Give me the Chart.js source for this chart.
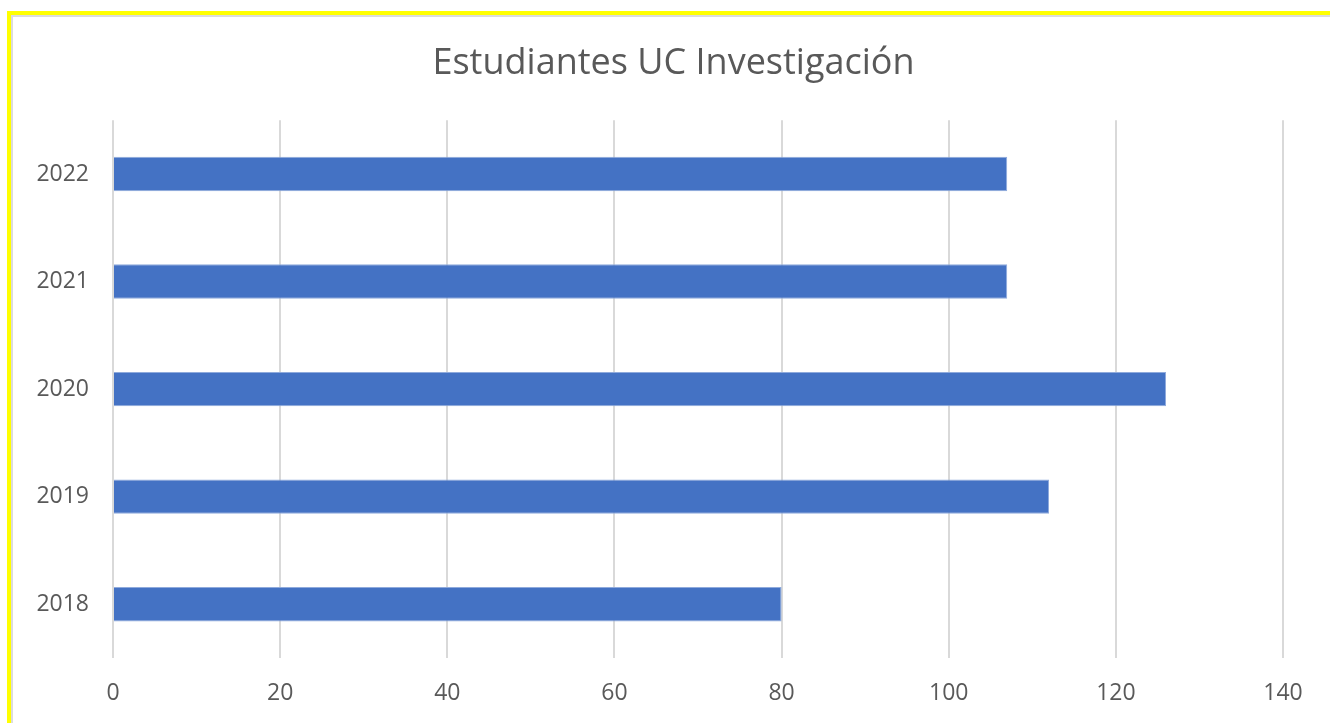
<!DOCTYPE html>
<html>
<head>
<meta charset="utf-8">
<script src="https://cdn.jsdelivr.net/npm/chart.js@4"></script>
<style>
    html, body { margin: 0; padding: 0; background: #ffffff; }
    #wrap { position: relative; width: 1330px; height: 723px; overflow: hidden; }
    #frame {
        position: absolute; left: 7px; top: 11px; width: 1330px; height: 710px;
        border-top: 4px solid #ffff00; border-left: 4px solid #ffff00;
    }
    #inner {
        position: absolute; left: 11px; top: 15px; width: 1330px; height: 706px;
        border-top: 2px solid #dcdcdc; border-left: 2px solid #dcdcdc; border-bottom: 1px solid #dcdcdc;
    }
    #chart { position: absolute; left: 0; top: 0; }
</style>
</head>
<body>
<div id="wrap">
    <div id="frame"></div>
    <div id="inner"></div>
    <canvas id="chart" width="1330" height="723"></canvas>
</div>
<script>
// chart data
var years = ["2018", "2019", "2020", "2021", "2022"];
var students = [80, 112, 126, 107, 107];
var xTicks = [0, 20, 40, 60, 80, 100, 120, 140];

var labelFont = { family: "'Open Sans', sans-serif", size: 23 };

// the original title sits a little right of the canvas centre
var titleShift = {
    id: "titleShift",
    afterLayout: function(chart) {
        if (chart.titleBlock) {
            chart.titleBlock.left += 32;
            chart.titleBlock.right += 32;
        }
    }
};

var ctx = document.getElementById("chart").getContext("2d");
var barChart = new Chart(ctx, {
    type: "bar",
    data: {
        labels: years,
        datasets: [
            {
                label: "Estudiantes",
                data: students,
                backgroundColor: "#4472C4",
                borderColor: "#8FAADC",
                borderWidth: 1,
                barPercentage: 0.32,
                categoryPercentage: 1
            }
        ]
    },
    options: {
        indexAxis: "y",
        responsive: false,
        animation: false,
        layout: { padding: { left: 0, right: 47, top: 0, bottom: 0 } },
        plugins: {
            legend: { display: false },
            tooltip: { enabled: false },
            title: {
                display: true,
                text: "Estudiantes UC Investigación",
                color: "#595959",
                font: { family: "'Open Sans', sans-serif", size: 36, weight: "normal", lineHeight: 1.2 },
                padding: { top: 42, bottom: 35 }
            }
        },
        scales: {
            x: {
                min: 0,
                max: 140,
                afterBuildTicks: function(scale) {
                    scale.ticks = xTicks.map(function(v) { return { value: v }; });
                },
                afterFit: function(scale) { scale.height = 65; },
                grid: { color: "#d9d9d9", lineWidth: 2, drawTicks: false },
                border: { display: false },
                ticks: { color: "#595959", font: labelFont, padding: 22, maxRotation: 0 }
            },
            y: {
                reverse: true,
                afterFit: function(scale) { scale.width = 113; },
                grid: { display: false },
                border: { display: false },
                ticks: { color: "#595959", font: labelFont, padding: 16 }
            }
        }
    },
    plugins: [titleShift]
});
</script>
</body>
</html>
